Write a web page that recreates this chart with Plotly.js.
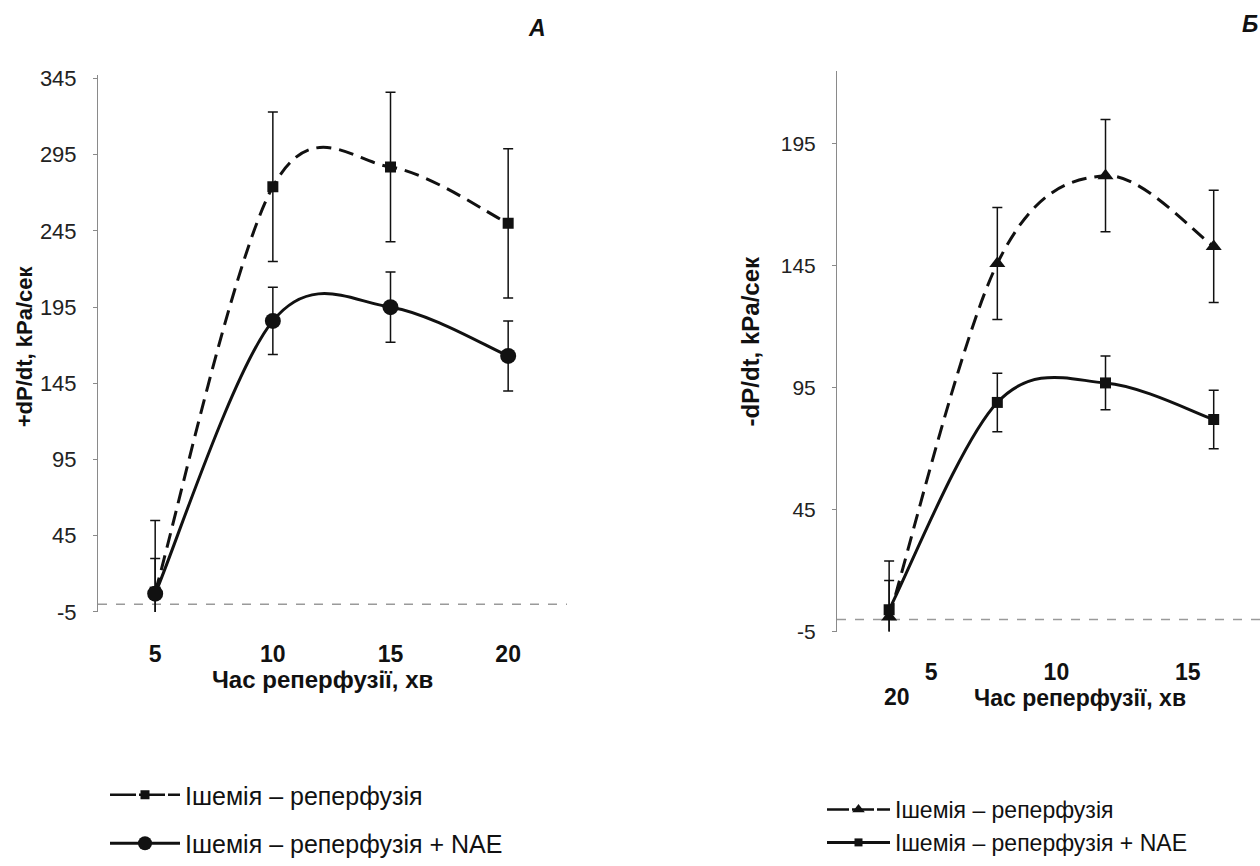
<!DOCTYPE html>
<html>
<head>
<meta charset="utf-8">
<script src="https://cdn.plot.ly/plotly-3.0.1.min.js"></script>
<style>
  html, body { margin: 0; padding: 0; background: #fff; }
  #chart { width: 1260px; height: 866px; }
</style>
</head>
<body>
<div id="chart"></div>
<script>
// ---- data ----
const timeMin = [5, 10, 15, 20];                       // Час реперфузії, хв
const seriesNames = ['Ішемія – реперфузія', 'Ішемія – реперфузія + NAE'];

// Panel А : +dP/dt, kPa/сек
const plusIschemia    = [8, 274, 287, 250];
const plusIschemiaErr = [47, 49, 49, 49];
const plusNae         = [7, 186, 195, 163];
const plusNaeErr      = [23, 22, 23, 23];

// Panel Б : -dP/dt, kPa/сек
const minusIschemia    = [1, 146, 182, 153];
const minusIschemiaErr = [23, 23, 23, 23];
const minusNae         = [4, 89, 97, 82];
const minusNaeErr      = [12, 12, 11, 12];

const yTicksA = [-5, 45, 95, 145, 195, 245, 295, 345];
const yTicksB = [-5, 45, 95, 145, 195];
const xTickTextA = ['5', '10', '15', '20'];
const xTickTextB = ['5', '10', '15'];   // the "20" label wrapped to the next line in the original
const xTickWrappedB = '20';

const panelLabels = ['А', 'Б'];
const yTitles = ['+dP/dt, kPa/сек', '-dP/dt, kPa/сек'];
const xTitle = 'Час реперфузії, хв';

// ---- styling helpers ----
const FONT = 'Liberation Sans, Arial, sans-serif';
const W = 1260, H = 866;
const px = v => v / W;
const py = v => 1 - v / H;
const INK = '#111';

function errBar(arr) {
  return { type: 'data', array: arr, visible: true, color: INK, thickness: 1.5, width: 5 };
}

// Excel-style smoothed line (Catmull-Rom Bezier) built from the data arrays,
// drawn in data coordinates through the axes.
function smoothPath(xs, ys) {
  const n = xs.length;
  let d = 'M' + xs[0] + ',' + ys[0];
  for (let i = 0; i < n - 1; i++) {
    const a = Math.max(i - 1, 0), b = Math.min(i + 2, n - 1);
    const c1x = xs[i] + (xs[i + 1] - xs[a]) / 6, c1y = ys[i] + (ys[i + 1] - ys[a]) / 6;
    const c2x = xs[i + 1] - (xs[b] - xs[i]) / 6, c2y = ys[i + 1] - (ys[b] - ys[i]) / 6;
    d += ' C' + c1x + ',' + c1y + ' ' + c2x + ',' + c2y + ' ' + xs[i + 1] + ',' + ys[i + 1];
  }
  return d;
}
function curve(xs, ys, xr, yr, dashed) {
  return { type: 'path', xref: xr, yref: yr, path: smoothPath(xs, ys), layer: 'below',
           line: { color: INK, width: 3, dash: dashed ? '15px,8px' : 'solid' } };
}

function markersTrace(y, err, xa, ya, symbol, size) {
  return { x: timeMin, y: y, xaxis: xa, yaxis: ya, mode: 'markers', showlegend: false, hoverinfo: 'skip',
           marker: { symbol: symbol, size: size, color: INK }, error_y: errBar(err) };
}
function legendTrace(name, xa, ya, legend, group, symbol, size, lineWidth, dash) {
  return { x: [null], y: [null], xaxis: xa, yaxis: ya, name: name, mode: 'lines+markers',
           legend: legend, legendgroup: group,
           line: { color: INK, width: lineWidth, dash: dash }, marker: { symbol: symbol, size: size, color: INK } };
}

const traces = [
  markersTrace(plusIschemia, plusIschemiaErr, 'x', 'y', 'square', 11),
  markersTrace(plusNae, plusNaeErr, 'x', 'y', 'circle', 16),
  markersTrace(minusIschemia, minusIschemiaErr, 'x2', 'y2', 'triangle-up', 14),
  markersTrace(minusNae, minusNaeErr, 'x2', 'y2', 'square', 11),
  legendTrace(seriesNames[0], 'x', 'y', 'legend', 'a1', 'square', 9, 2.5, '26px,3px'),
  legendTrace(seriesNames[1], 'x', 'y', 'legend', 'a2', 'circle', 14, 3, 'solid'),
  legendTrace(seriesNames[0], 'x2', 'y2', 'legend2', 'b1', 'triangle-up', 11, 2.5, '22px,3px'),
  legendTrace(seriesNames[1], 'x2', 'y2', 'legend2', 'b2', 'square', 8, 3, 'solid')
];

const yAxisCommon = {
  showgrid: false, zeroline: false, showline: true, linecolor: '#8a8a8a', linewidth: 1,
  ticks: 'outside', ticklen: 4, tickcolor: '#8a8a8a', tickwidth: 1,
  tickfont: { family: FONT, size: 22, color: '#222' }, ticklabelstandoff: 12, fixedrange: true
};
const xAxisCommon = {
  showgrid: false, zeroline: false, showline: false, ticks: '',
  tickfont: { family: FONT, size: 23, color: INK, weight: 'bold' }, fixedrange: true
};

function ann(text, x, y, size, extra) {
  return Object.assign({
    text: text, xref: 'paper', yref: 'paper', x: px(x), y: py(y), showarrow: false,
    xanchor: 'center', yanchor: 'middle',
    font: { family: FONT, size: size, color: INK, weight: 'bold' }
  }, extra || {});
}

const layout = {
  width: W, height: H,
  margin: { l: 0, r: 0, t: 0, b: 0 },
  paper_bgcolor: '#fff', plot_bgcolor: '#fff',
  showlegend: true,
  xaxis: Object.assign({}, xAxisCommon, {
    domain: [px(98), px(567)], range: [2.57, 22.5], anchor: 'y',
    tickvals: timeMin, ticktext: xTickTextA, ticklabelstandoff: 26
  }),
  yaxis: Object.assign({}, yAxisCommon, {
    domain: [py(622), py(76)], range: [-5, 347.5], anchor: 'x',
    tickvals: yTicksA, ticktext: yTicksA.map(String)
  }),
  xaxis2: Object.assign({}, xAxisCommon, {
    domain: [px(837), 1], range: [2.59, 22.14], anchor: 'y2',
    tickvals: [6.94, 12.73, 18.8], ticktext: xTickTextB, ticklabelstandoff: 24
  }),
  yaxis2: Object.assign({}, yAxisCommon, {
    domain: [py(642), py(72)], range: [-5, 225], anchor: 'x2',
    tickvals: yTicksB, ticktext: yTicksB.map(String), tickfont: { family: FONT, size: 21, color: '#222' }
  }),
  legend: {
    x: px(105), y: py(785), xanchor: 'left', yanchor: 'top',
    font: { family: FONT, size: 25, color: INK }, itemwidth: 70,
    traceorder: 'grouped', tracegroupgap: 13, bgcolor: 'rgba(0,0,0,0)'
  },
  legend2: {
    x: px(822), y: py(801), xanchor: 'left', yanchor: 'top',
    font: { family: FONT, size: 23, color: INK }, itemwidth: 63,
    traceorder: 'grouped', tracegroupgap: 0, bgcolor: 'rgba(0,0,0,0)'
  },
  shapes: [
    { type: 'line', xref: 'x domain', yref: 'y', x0: 0, x1: 1, y0: 0, y1: 0,
      line: { color: '#9a9a9a', width: 1.5, dash: 'dash' }, layer: 'below' },
    { type: 'line', xref: 'x2 domain', yref: 'y2', x0: 0, x1: 1, y0: 0, y1: 0,
      line: { color: '#9a9a9a', width: 1.5, dash: 'dash' }, layer: 'below' },
    curve(timeMin, plusIschemia, 'x', 'y', true),
    curve(timeMin, plusNae, 'x', 'y', false),
    curve(timeMin, minusIschemia, 'x2', 'y2', true),
    curve(timeMin, minusNae, 'x2', 'y2', false)
  ],
  annotations: [
    ann(panelLabels[0], 537, 28, 23, { font: { family: FONT, size: 23, color: INK, weight: 'bold', style: 'italic' } }),
    ann(panelLabels[1], 1250, 24, 23, { font: { family: FONT, size: 23, color: INK, weight: 'bold', style: 'italic' } }),
    ann(yTitles[0], 24, 352, 22, { textangle: -90 }),
    ann(yTitles[1], 750, 347, 24, { textangle: -90 }),
    ann(xTitle, 322, 691, 24),
    ann(xTitle, 1080, 709, 23),
    ann(xTickWrappedB, 897, 708, 23)
  ]
};

Plotly.newPlot('chart', traces, layout, { displayModeBar: false, staticPlot: true });
</script>
</body>
</html>
